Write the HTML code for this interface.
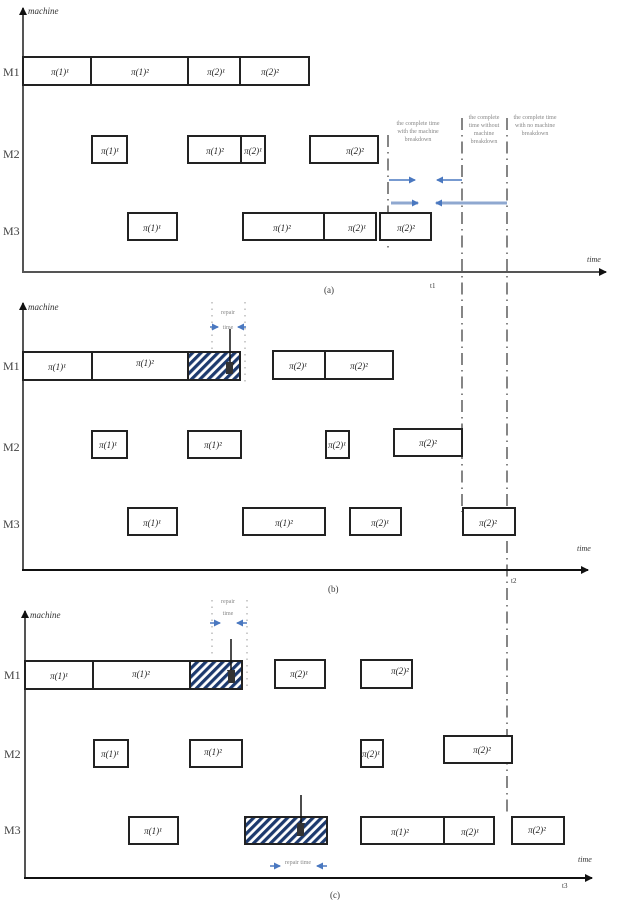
<!DOCTYPE html>
<html><head><meta charset="utf-8"><style>
html,body{margin:0;padding:0;background:#fff;width:639px;height:904px;overflow:hidden}
svg{display:block}
text{font-family:"Liberation Serif",serif;fill:#333}
.b{fill:#fff;stroke:#222;stroke-width:2}
.h{fill:url(#hat);stroke:#222;stroke-width:2}
.l{font-size:9px;font-style:italic;text-anchor:middle;fill:#222}
.m{font-size:12px;fill:#444}
.s{font-size:6px;fill:#888;text-anchor:middle}
.dd{stroke:#444;stroke-width:1.3;stroke-dasharray:12,5,1.5,5;fill:none}
.dt{stroke:#999;stroke-width:1;stroke-dasharray:1.5,5;fill:none}
</style></head><body>
<svg width="639" height="904" viewBox="0 0 639 904" xmlns="http://www.w3.org/2000/svg">
<defs>
<pattern id="hat" width="6" height="6" patternUnits="userSpaceOnUse" patternTransform="rotate(45)">
<rect width="6" height="6" fill="#fff"/><rect width="3.2" height="6" fill="#1d3a6e"/></pattern>
<marker id="ar" markerWidth="8" markerHeight="8" refX="7" refY="4" orient="auto" markerUnits="userSpaceOnUse"><path d="M0,0 L8,4 L0,8z" fill="#111"/></marker>
<marker id="ab" markerWidth="7" markerHeight="7" refX="6" refY="3.5" orient="auto" markerUnits="userSpaceOnUse"><path d="M0,0 L7,3.5 L0,7z" fill="#4a78c0"/></marker>
</defs>

<!-- dash-dot lines -->
<path class="dd" d="M388,135 V250"/>
<path class="dd" d="M462,118 V512"/>
<path class="dd" d="M507,118 V812"/>

<!-- PANEL A -->
<line x1="23" y1="272" x2="23" y2="8" stroke="#555" stroke-width="2" marker-end="url(#ar)"/>
<line x1="22" y1="272" x2="606" y2="272" stroke="#555" stroke-width="2" marker-end="url(#ar)"/>
<text x="28" y="14" font-size="9" font-style="italic">machine</text>
<text x="587" y="262" font-size="8" font-style="italic">time</text>
<text x="3" y="76" class="m">M1</text><text x="3" y="158" class="m">M2</text><text x="3" y="235" class="m">M3</text>
<rect class="b" x="23" y="57" width="68" height="28"/><rect class="b" x="91" y="57" width="97" height="28"/>
<rect class="b" x="188" y="57" width="52" height="28"/><rect class="b" x="240" y="57" width="69" height="28"/>
<text class="l" x="60" y="75">π(1)¹</text><text class="l" x="140" y="75">π(1)²</text><text class="l" x="216" y="75">π(2)¹</text><text class="l" x="270" y="75">π(2)²</text>
<rect class="b" x="92" y="136" width="35" height="27"/><text class="l" x="110" y="154">π(1)¹</text>
<rect class="b" x="188" y="136" width="53" height="27"/><text class="l" x="215" y="154">π(1)²</text>
<rect class="b" x="241" y="136" width="24" height="27"/><text class="l" x="253" y="154">π(2)¹</text>
<rect class="b" x="310" y="136" width="68" height="27"/><text class="l" x="355" y="154">π(2)²</text>
<rect class="b" x="128" y="213" width="49" height="27"/><text class="l" x="152" y="231">π(1)¹</text>
<rect class="b" x="243" y="213" width="81" height="27"/><text class="l" x="282" y="231">π(1)²</text>
<rect class="b" x="324" y="213" width="52" height="27"/><text class="l" x="357" y="231">π(2)¹</text>
<rect class="b" x="380" y="213" width="51" height="27"/><text class="l" x="406" y="231">π(2)²</text>
<text class="s" x="418" y="125">the complete time</text><text class="s" x="418" y="133">with the machine</text><text class="s" x="418" y="141">breakdown</text>
<text class="s" x="484" y="119">the complete</text><text class="s" x="484" y="127">time without</text><text class="s" x="484" y="135">machine</text><text class="s" x="484" y="143">breakdown</text>
<text class="s" x="535" y="119">the complete time</text><text class="s" x="535" y="127">with no machine</text><text class="s" x="535" y="135">breakdown</text>
<line x1="389" y1="180" x2="415" y2="180" stroke="#4a78c0" stroke-width="1.5" marker-end="url(#ab)"/>
<line x1="462" y1="180" x2="437" y2="180" stroke="#4a78c0" stroke-width="1.5" marker-end="url(#ab)"/>
<line x1="391" y1="203" x2="418" y2="203" stroke="#8fa8d0" stroke-width="3" marker-end="url(#ab)"/>
<line x1="507" y1="203" x2="436" y2="203" stroke="#8fa8d0" stroke-width="3" marker-end="url(#ab)"/>
<text x="324" y="293" font-size="9">(a)</text><text x="430" y="288" font-size="7">t1</text>

<!-- PANEL B -->
<line x1="23" y1="570" x2="23" y2="303" stroke="#555" stroke-width="2" marker-end="url(#ar)"/>
<line x1="22" y1="570" x2="588" y2="570" stroke="#111" stroke-width="2" marker-end="url(#ar)"/>
<text x="28" y="310" font-size="9" font-style="italic">machine</text>
<text x="577" y="551" font-size="8" font-style="italic">time</text>
<text x="3" y="370" class="m">M1</text><text x="3" y="451" class="m">M2</text><text x="3" y="528" class="m">M3</text>
<rect class="b" x="23" y="352" width="69" height="28"/><rect class="b" x="92" y="352" width="96" height="28"/>
<rect class="h" x="188" y="352" width="52" height="28"/>
<text class="l" x="57" y="370">π(1)¹</text><text class="l" x="145" y="366">π(1)²</text>
<rect class="b" x="273" y="351" width="52" height="28"/><rect class="b" x="325" y="351" width="68" height="28"/>
<text class="l" x="298" y="369">π(2)¹</text><text class="l" x="359" y="369">π(2)²</text>
<path class="dt" d="M212,302 V350 M245,302 V384"/>
<text class="s" x="228" y="314">repair</text><text class="s" x="228" y="329">time</text>
<line x1="210" y1="327" x2="218" y2="327" stroke="#4a78c0" stroke-width="1.5" marker-end="url(#ab)"/>
<line x1="246" y1="327" x2="238" y2="327" stroke="#4a78c0" stroke-width="1.5" marker-end="url(#ab)"/>
<line x1="230" y1="329" x2="230" y2="370" stroke="#111" stroke-width="1.5" marker-end="url(#ar)"/>
<rect x="226" y="362" width="7" height="12" fill="#333"/>
<rect class="b" x="92" y="431" width="35" height="27"/><text class="l" x="108" y="448">π(1)¹</text>
<rect class="b" x="188" y="431" width="53" height="27"/><text class="l" x="213" y="448">π(1)²</text>
<rect class="b" x="326" y="431" width="23" height="27"/><text class="l" x="337" y="448">π(2)¹</text>
<rect class="b" x="394" y="429" width="68" height="27"/><text class="l" x="428" y="446">π(2)²</text>
<rect class="b" x="128" y="508" width="49" height="27"/><text class="l" x="152" y="526">π(1)¹</text>
<rect class="b" x="243" y="508" width="82" height="27"/><text class="l" x="284" y="526">π(1)²</text>
<rect class="b" x="350" y="508" width="51" height="27"/><text class="l" x="380" y="526">π(2)¹</text>
<rect class="b" x="463" y="508" width="52" height="27"/><text class="l" x="488" y="526">π(2)²</text>
<text x="328" y="592" font-size="9">(b)</text><text x="511" y="583" font-size="7">t2</text>

<!-- PANEL C -->
<line x1="25" y1="878" x2="25" y2="611" stroke="#555" stroke-width="2" marker-end="url(#ar)"/>
<line x1="24" y1="878" x2="592" y2="878" stroke="#111" stroke-width="2" marker-end="url(#ar)"/>
<text x="30" y="618" font-size="9" font-style="italic">machine</text>
<text x="578" y="862" font-size="8" font-style="italic">time</text>
<text x="4" y="679" class="m">M1</text><text x="4" y="758" class="m">M2</text><text x="4" y="834" class="m">M3</text>
<rect class="b" x="25" y="661" width="68" height="28"/><rect class="b" x="93" y="661" width="97" height="28"/>
<rect class="h" x="190" y="661" width="52" height="28"/>
<text class="l" x="59" y="679">π(1)¹</text><text class="l" x="141" y="677">π(1)²</text>
<rect class="b" x="275" y="660" width="50" height="28"/><text class="l" x="299" y="677">π(2)¹</text>
<rect class="b" x="361" y="660" width="51" height="28"/><text class="l" x="400" y="674">π(2)²</text>
<path class="dt" d="M212,600 V658 M247,600 V686"/>
<text class="s" x="228" y="603">repair</text><text class="s" x="228" y="615">time</text>
<line x1="210" y1="623" x2="220" y2="623" stroke="#4a78c0" stroke-width="1.5" marker-end="url(#ab)"/>
<line x1="247" y1="623" x2="237" y2="623" stroke="#4a78c0" stroke-width="1.5" marker-end="url(#ab)"/>
<line x1="231" y1="639" x2="231" y2="677" stroke="#111" stroke-width="1.5" marker-end="url(#ar)"/>
<rect x="228" y="670" width="7" height="13" fill="#333"/>
<rect class="b" x="94" y="740" width="34" height="27"/><text class="l" x="110" y="757">π(1)¹</text>
<rect class="b" x="190" y="740" width="52" height="27"/><text class="l" x="213" y="755">π(1)²</text>
<rect class="b" x="361" y="740" width="22" height="27"/><text class="l" x="371" y="757">π(2)¹</text>
<rect class="b" x="444" y="736" width="68" height="27"/><text class="l" x="482" y="753">π(2)²</text>
<rect class="b" x="129" y="817" width="49" height="27"/><text class="l" x="153" y="834">π(1)¹</text>
<rect class="h" x="245" y="817" width="82" height="27"/>
<line x1="301" y1="795" x2="301" y2="830" stroke="#111" stroke-width="1.5" marker-end="url(#ar)"/>
<rect x="297" y="823" width="7" height="13" fill="#333"/>
<rect class="b" x="361" y="817" width="83" height="27"/><rect class="b" x="444" y="817" width="50" height="27"/>
<text class="l" x="400" y="835">π(1)²</text><text class="l" x="470" y="835">π(2)¹</text>
<rect class="b" x="512" y="817" width="52" height="27"/><text class="l" x="537" y="833">π(2)²</text>
<text class="s" x="298" y="864" font-size="7">repair time</text>
<line x1="270" y1="866" x2="280" y2="866" stroke="#4a78c0" stroke-width="1.5" marker-end="url(#ab)"/>
<line x1="327" y1="866" x2="317" y2="866" stroke="#4a78c0" stroke-width="1.5" marker-end="url(#ab)"/>
<text x="330" y="898" font-size="9">(c)</text><text x="562" y="888" font-size="7">t3</text>
</svg>
</body></html>
